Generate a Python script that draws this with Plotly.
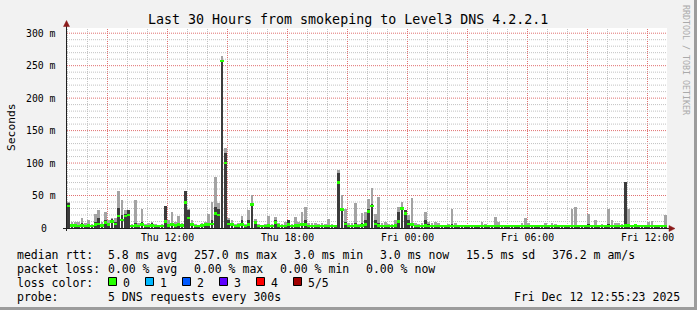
import plotly.graph_objects as go
from datetime import datetime, timedelta

# ---------------- data (10-minute bins, values in ms) ----------------
T_START = datetime(2025, 12, 11, 6, 58, 30)
T_END = datetime(2025, 12, 12, 12, 58, 30)
BIN_MINUTES = 10

smoke_max = [
    40, 10, 10, 9, 15, 8, 12, 6, 21, 28, 10, 25, 12, 16, 15, 57, 43, 28, 27, 6,
    43, 8, 29, 6, 8, 10, 6, 5, 6, 34, 12, 25, 10, 18, 8, 57, 30, 12, 6, 5,
    8, 10, 22, 40, 79, 38, 265, 123, 15, 13, 6, 8, 18, 6, 28, 51, 14, 6, 5, 6,
    19, 6, 17, 8, 6, 10, 12, 6, 17, 10, 24, 33, 7, 8, 7, 6, 7, 6, 14, 6,
    5, 89, 51, 29, 8, 8, 39, 6, 23, 24, 45, 61, 22, 48, 8, 10, 6, 6, 12, 32,
    40, 28, 20, 46, 8, 6, 7, 24, 10, 8, 10, 8, 5, 5, 6, 29, 8, 5, 5, 5,
    4, 5, 5, 4, 9, 6, 5, 4, 17, 9, 5, 4, 5, 4, 5, 5, 8, 15, 7, 5,
    4, 5, 4, 7, 4, 7, 6, 5, 4, 5, 4, 30, 32, 5, 5, 4, 21, 5, 12, 5,
    6, 5, 29, 12, 7, 7, 6, 71, 29, 5, 6, 5, 5, 4, 10, 11, 5, 5, 4, 20,
]
smoke_mid = [
    38, 6, 6, 5, 8, 5, 6, 4, 10, 16, 6, 12, 8, 14, 10, 31, 20, 22, 27, 4,
    8, 5, 10, 4, 5, 8, 4, 4, 4, 34, 6, 8, 6, 8, 5, 57, 27, 8, 4, 4,
    5, 7, 8, 12, 33, 30, 258, 115, 12, 8, 4, 5, 12, 4, 12, 37, 10, 4, 4, 4,
    6, 4, 13, 5, 4, 5, 12, 4, 6, 6, 8, 12, 4, 4, 4, 4, 4, 4, 5, 4,
    4, 85, 30, 10, 5, 5, 8, 4, 8, 12, 30, 37, 12, 8, 5, 5, 4, 4, 6, 25,
    30, 28, 12, 8, 5, 4, 4, 12, 6, 4, 5, 4, 4, 4, 4, 6, 4, 5, 4, 4,
    4, 5, 4, 4, 4, 4, 4, 4, 5, 4, 4, 4, 4, 4, 4, 4, 4, 5, 4, 4,
    4, 4, 4, 4, 4, 4, 4, 4, 4, 4, 4, 4, 5, 4, 4, 4, 6, 4, 4, 4,
    4, 4, 6, 5, 4, 4, 4, 71, 6, 4, 6, 4, 4, 4, 4, 4, 4, 4, 4, 5,
]
median_rtt = [
    34, 4, 4, 3, 4, 3, 4, 3, 5, 6, 4, 8, 5, 10, 6, 18, 12, 18, 20, 3,
    4, 3, 5, 3, 3, 4, 3, 3, 3, 10, 4, 5, 4, 5, 4, 39, 15, 5, 3, 3,
    4, 5, 5, 6, 22, 20, 257, 100, 6, 5, 3, 4, 5, 3, 5, 36, 8, 3, 3, 3,
    4, 3, 8, 4, 3, 3, 5, 3, 4, 4, 5, 5, 3, 3, 3, 3, 3, 3, 3, 3,
    3, 70, 28, 6, 3, 3, 4, 3, 4, 5, 25, 34, 6, 4, 3, 3, 3, 3, 4, 10,
    30, 22, 6, 5, 3, 3, 3, 4, 3, 3, 3, 3, 3, 3, 3, 3, 3, 3, 3, 3,
    3, 3, 3, 3, 3, 3, 3, 3, 3, 3, 3, 3, 3, 3, 3, 3, 3, 3, 3, 3,
    3, 3, 3, 3, 3, 3, 3, 3, 3, 3, 3, 3, 3, 3, 3, 3, 3, 3, 3, 3,
    3, 3, 3, 3, 3, 3, 3, 4, 4, 3, 4, 3, 3, 3, 3, 3, 3, 3, 3, 3,
]

y_major = [0, 50, 100, 150, 200, 250, 300]
y_tick_labels = ["0", "50 m", "100 m", "150 m", "200 m", "250 m", "300 m"]
y_minor = [v for v in range(0, 310, 10) if v % 50 != 0]
x_all_hours = [datetime(2025, 12, 11, 7) + timedelta(hours=k) for k in range(30)]
x_major = [datetime(2025, 12, 11, 9) + timedelta(hours=3 * k) for k in range(10)]
x_labels = {datetime(2025, 12, 11, 12): "Thu 12:00", datetime(2025, 12, 11, 18): "Thu 18:00",
            datetime(2025, 12, 12, 0): "Fri 00:00", datetime(2025, 12, 12, 6): "Fri 06:00",
            datetime(2025, 12, 12, 12): "Fri 12:00"}

loss_labels = ["0", "1", "2", "3", "4", "5/5"]
loss_colors = ["#26ff00", "#00b8ff", "#0059ff", "#5e00ff", "#ff0000", "#a10000"]

legend_rows = [
    [("median rtt:", 16), ("5.8 ms avg", 107), ("257.0 ms max", 193), ("3.0 ms min", 293),
     ("3.0 ms now", 379), ("15.5 ms sd", 465), ("376.2 m am/s", 551)],
    [("packet loss:", 16), ("0.00 % avg", 107), ("0.00 % max", 193), ("0.00 % min", 279),
     ("0.00 % now", 365)],
]

# ---------------- geometry ----------------
W, H = 697, 310
PL, PR, PT, PB = 67, 667, 28, 228
Y_MAX = 308


def px(x):
    return (x - PL) / (PR - PL)


def py(y):
    return (PB - y) / (PB - PT)


n = len(median_rtt)
times = [T_START + timedelta(minutes=BIN_MINUTES * (i + 0.5)) for i in range(n)]
bw = BIN_MINUTES * 60 * 1000

MONO = "DejaVu Sans Mono"

fig = go.Figure()
fig.add_trace(go.Bar(x=times, y=smoke_max, width=bw * 0.72, marker=dict(color="#a3a3a3", line_width=0),
                     hoverinfo="skip"))
fig.add_trace(go.Bar(x=times, y=smoke_mid, width=bw * 0.72, marker=dict(color="#3c3c3c", line_width=0),
                     hoverinfo="skip"))
fig.add_trace(go.Bar(x=times, y=[3.8] * n, base=[m - 1.7 for m in median_rtt], width=bw,
                     marker=dict(color="#26ff00", line_width=0), hoverinfo="skip"))

grid_major = "#e07070"
grid_minor = "#c2c2c2"

fig.update_layout(
    width=W, height=H,
    margin=dict(l=PL, r=W - PR, t=PT, b=H - PB, pad=0),
    paper_bgcolor="#f2f2f2", plot_bgcolor="#ffffff",
    barmode="overlay", bargap=0, showlegend=False,
    font=dict(family=MONO, color="#000000", size=10),
    xaxis=dict(
        type="date", range=[T_START, T_END], showline=False, zeroline=False,
        tickmode="array", tickvals=x_all_hours, ticktext=[x_labels.get(t, "") for t in x_all_hours],
        ticks="", tickfont=dict(family=MONO, size=9.8, color="#000"),
        ticklabelstandoff=2, showgrid=False,
        fixedrange=True,
    ),
    yaxis=dict(
        range=[0, Y_MAX], showline=False, zeroline=False, showticklabels=False, ticks="",
        showgrid=False, fixedrange=True,
    ),
)

shapes = []
# grid: grey dotted every hour / 10 m, red dotted every 3 h / 50 m (between grid and traces)
for t in x_all_hours:
    col = grid_major if t in x_major else grid_minor
    shapes.append(dict(type="line", xref="x", yref="paper", x0=t, x1=t, y0=0, y1=1, layer="between",
                       line=dict(color=col, width=1, dash="1px,1px")))
for v in y_minor + y_major[1:]:
    col = grid_major if v % 50 == 0 else grid_minor
    shapes.append(dict(type="line", xref="paper", yref="y", x0=0, x1=1, y0=v, y1=v, layer="between",
                       line=dict(color=col, width=1, dash="1px,1px")))
# axes
shapes.append(dict(type="line", xref="paper", yref="paper", x0=px(63), x1=px(670),
                   y0=py(228.5), y1=py(228.5), line=dict(color="#202020", width=1)))
shapes.append(dict(type="line", xref="paper", yref="paper", x0=px(66.5), x1=px(66.5),
                   y0=py(231), y1=py(24), line=dict(color="#202020", width=1)))
# arrows
ARROW = "#8b1a1a"
shapes.append(dict(type="path", xref="paper", yref="paper",
                   path=f"M {px(63.5)} {py(26.5)} L {px(69.5)} {py(26.5)} L {px(66.5)} {py(20.5)} Z",
                   fillcolor=ARROW, line=dict(color=ARROW, width=0.5)))
shapes.append(dict(type="path", xref="paper", yref="paper",
                   path=f"M {px(669)} {py(225.5)} L {px(669)} {py(231.5)} L {px(675)} {py(228.5)} Z",
                   fillcolor=ARROW, line=dict(color=ARROW, width=0.5)))
# border shading
shapes.append(dict(type="rect", xref="paper", yref="paper", x0=px(0), x1=px(W), y0=py(H - 3), y1=py(H),
                   fillcolor="#9c9c9c", line_width=0))
shapes.append(dict(type="rect", xref="paper", yref="paper", x0=px(W - 3), x1=px(W), y0=py(0), y1=py(H),
                   fillcolor="#9c9c9c", line_width=0))
# loss colour boxes
box_lefts = [108, 145, 182, 219, 256, 293]
for bx, c in zip(box_lefts, loss_colors):
    shapes.append(dict(type="rect", xref="paper", yref="paper", x0=px(bx + 0.5), x1=px(bx + 8.5),
                       y0=py(277.5), y1=py(285.5), fillcolor=c, line=dict(color="#000", width=1)))
fig.update_layout(shapes=shapes)

ann = []


def text(t, x, y, size, xanchor="left", color="#000", angle=0):
    ann.append(dict(text=t.replace(" ", "\u00a0"), x=px(x), y=py(y), xref="paper", yref="paper",
                    xanchor=xanchor, yanchor="middle", showarrow=False, borderpad=0,
                    textangle=angle, font=dict(family=MONO, size=size, color=color)))


text("Last 30 Hours from smokeping to Level3 DNS 4.2.2.1", 348, 19.5, 13.3, xanchor="center")
text("Seconds", 11, 127, 11.3, xanchor="center", angle=-90)
text("RRDTOOL / TOBI OETIKER", 686, 60, 8.3, xanchor="center", color="#aaaaaa", angle=90)

for v, lab in zip(y_major, y_tick_labels):
    yy = PB - v * (PB - PT) / Y_MAX
    if lab == "0":
        text(lab, 47.5, yy, 9.8, xanchor="right")
    else:
        text(lab, 56.5, yy, 9.8, xanchor="right")

row_y = [254.5, 268.5, 282.5, 296.5]
for r, row in enumerate(legend_rows):
    for t, x in row:
        text(t, x, row_y[r], 11.5)
text("loss color:", 16, row_y[2], 11.5)
for bx, lab in zip(box_lefts, loss_labels):
    text(lab, bx + 13.5, row_y[2], 11.5)
text("probe:", 16, row_y[3], 11.5)
text("5 DNS requests every 300s", 107, row_y[3], 11.5)
text("Fri Dec 12 12:55:23 2025", 681, row_y[3], 11.5, xanchor="right")

fig.update_layout(annotations=ann)
fig.write_html("out.html")
